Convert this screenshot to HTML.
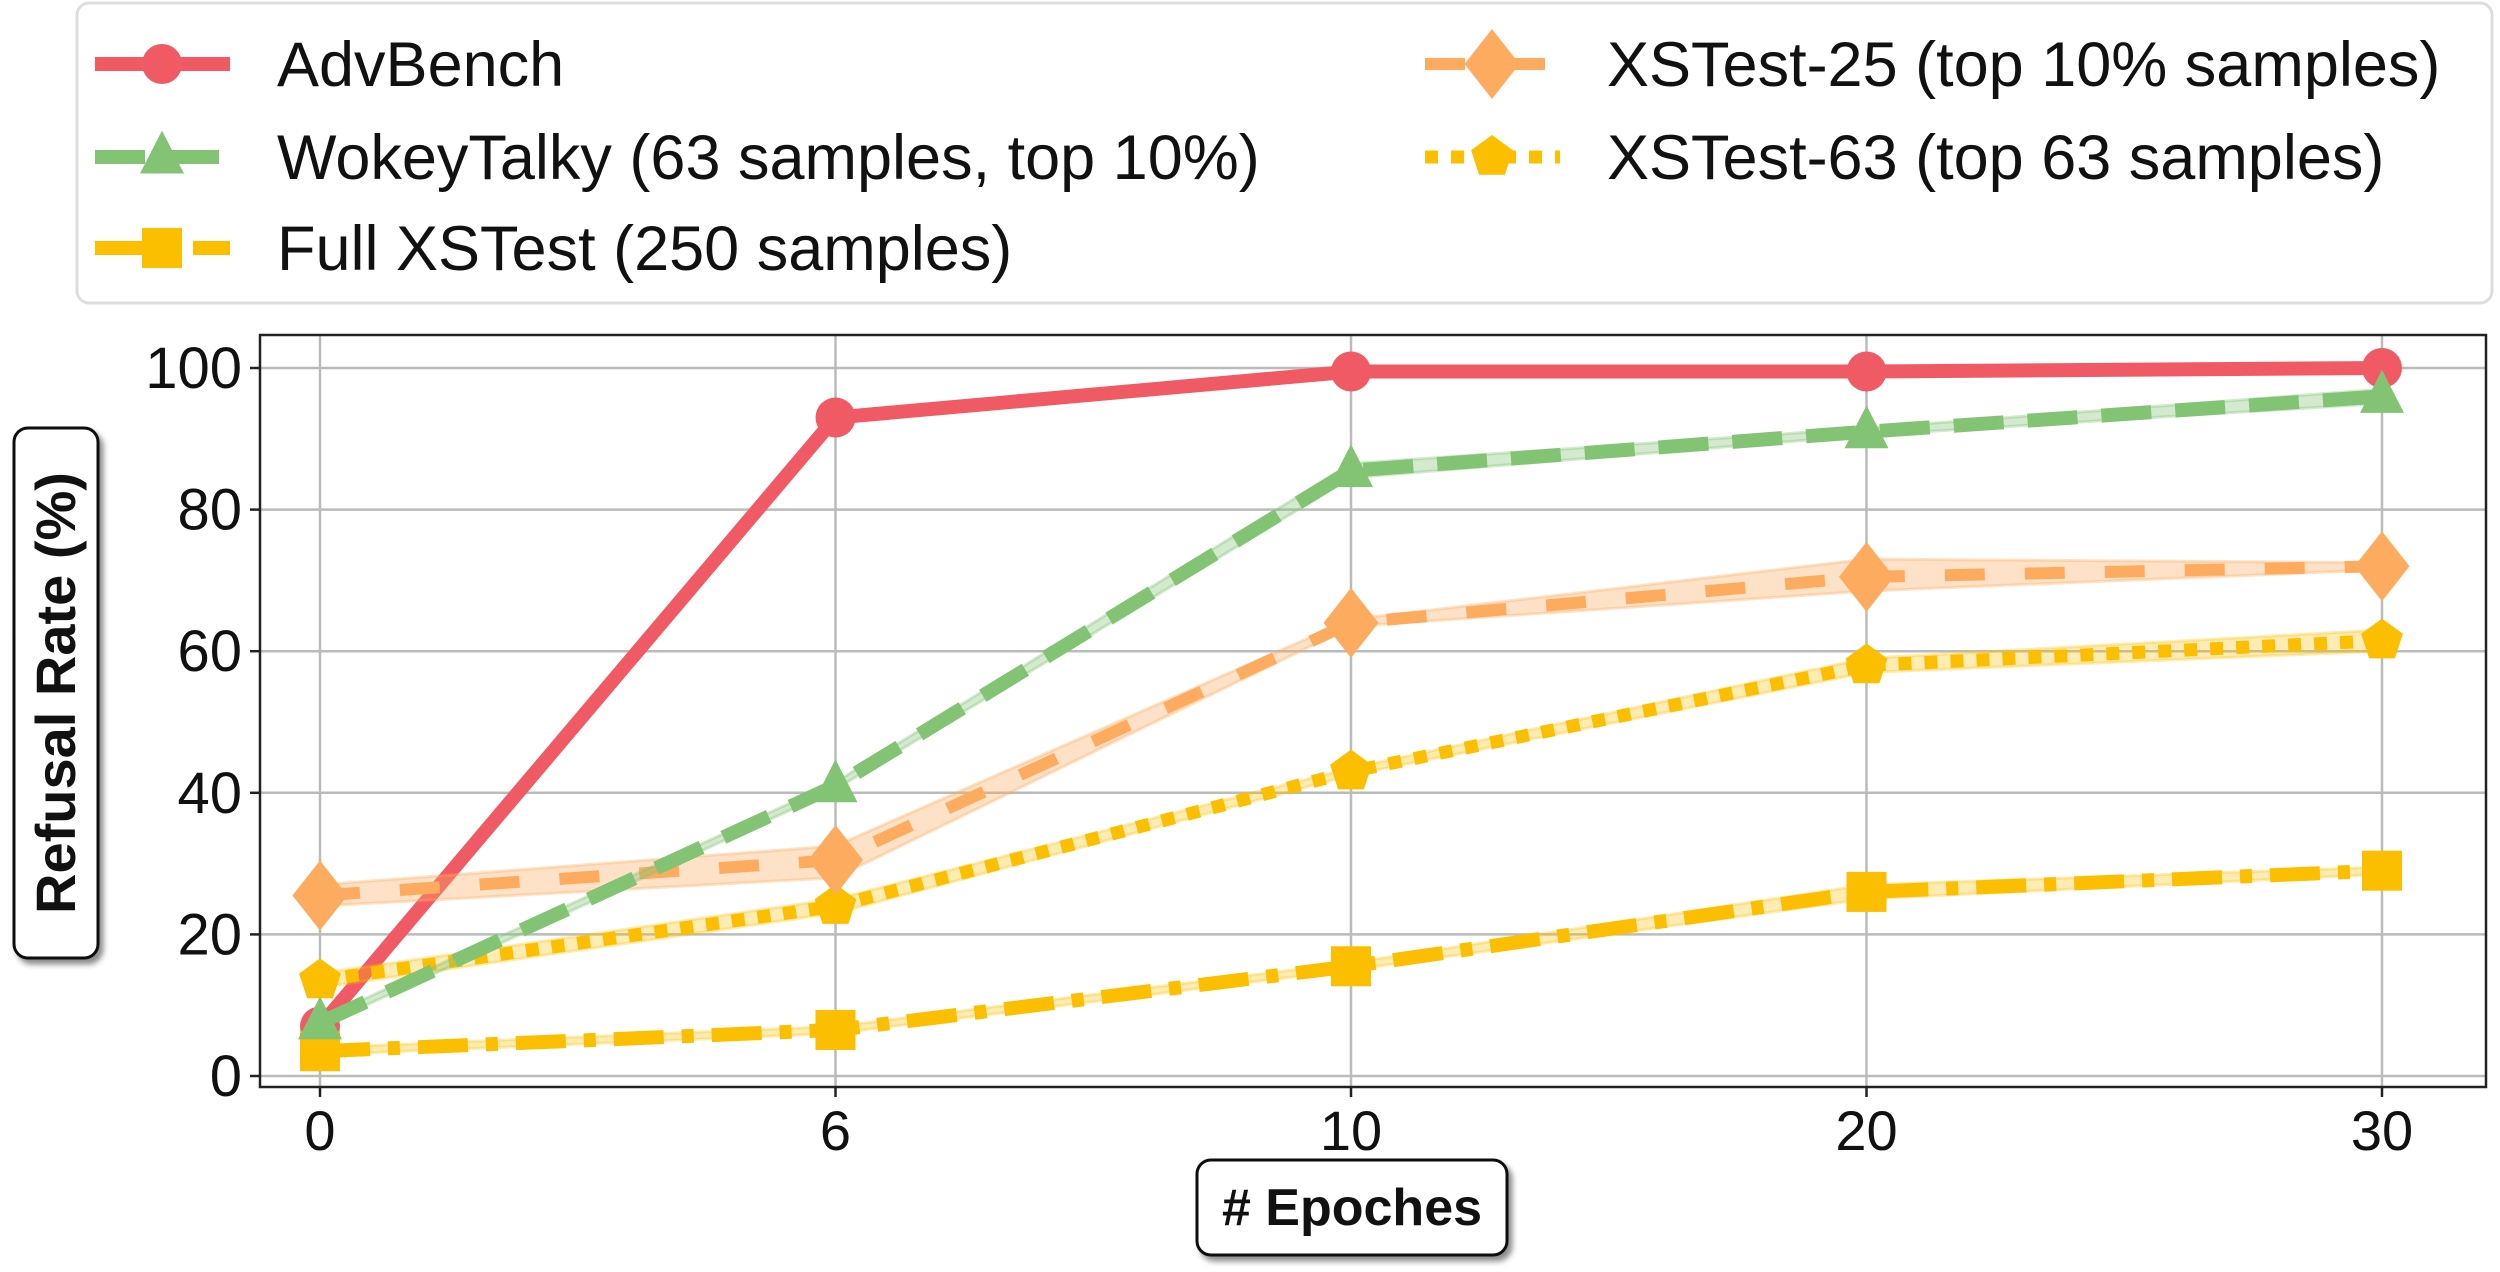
<!DOCTYPE html>
<html><head><meta charset="utf-8"><style>
html,body{margin:0;padding:0;background:#fff;}
svg{display:block;font-family:"Liberation Sans",sans-serif;}
</style></head><body>
<svg id="chart" width="2500" height="1272" viewBox="0 0 2500 1272">
<defs><filter id="sh" x="-20%" y="-20%" width="140%" height="140%"><feDropShadow dx="4" dy="5" stdDeviation="3" flood-color="#000" flood-opacity="0.45"/></filter></defs>
<g id="grid"></g>
<g id="series"></g>
<rect x="260" y="335" width="2226" height="752" fill="none" stroke="#222" stroke-width="2.5"/>
<g id="ticks"></g>
<g>
<rect x="14" y="428" width="84" height="530" rx="14" fill="#fff" stroke="#111" stroke-width="3" filter="url(#sh)"/>
<text transform="translate(75,693) rotate(-90)" text-anchor="middle" font-size="56" font-weight="bold" fill="#111">Refusal Rate (%)</text>
</g>
<g>
<rect x="1197" y="1160" width="310" height="95" rx="14" fill="#fff" stroke="#111" stroke-width="3" filter="url(#sh)"/>
<text x="1352" y="1225" text-anchor="middle" font-size="52" font-weight="bold" fill="#111"># Epoches</text>
</g>
<g id="legend">
<rect x="77" y="3" width="2415" height="300" rx="12" fill="#fff" stroke="#ddd" stroke-width="3"/>
</g>
</svg>
<script>
const categories = ["0","6","10","20","30"];
const yTicks = [0,20,40,60,80,100];
const advBench = [7,93,99.5,99.5,100];
const wokey = [7.5,41,85.5,91,96];
const wokeyLo = [7,40.5,84.5,90.5,95];
const wokeyHi = [8,41.5,86.5,91.5,97];
const xs25 = [25.5,30.5,64,70.5,72];
const xs25Lo = [24,28,63.5,68.5,71.5];
const xs25Hi = [27,32.5,64.5,73,72.5];
const xs63 = [13.5,24,43,58,61.5];
const xs63Lo = [12.5,23,42.5,57,60];
const xs63Hi = [14.5,25,43.5,59,63];
const full = [3.5,6.5,15.5,26,29];
const fullLo = [3,6,15,25,28.5];
const fullHi = [4,7,16,27,29.5];

const NS="http://www.w3.org/2000/svg";
const X0=320, XSTEP=515.5, Y0=1076, YPX=7.08;
function xs(i){return X0+i*XSTEP;}
function ys(v){return Y0-v*YPX;}
function mk(tag,attrs,parent){const e=document.createElementNS(NS,tag);for(const k in attrs)e.setAttribute(k,attrs[k]);parent.appendChild(e);return e;}
const grid=document.getElementById('grid'), ticks=document.getElementById('ticks'), ser=document.getElementById('series'), leg=document.getElementById('legend');

yTicks.forEach(v=>{
  const l=mk('line',{x1:260,x2:2486,y1:ys(v),y2:ys(v),stroke:'#bbb','stroke-width':2.5},grid);
  
  
  const t=mk('line',{x1:250,x2:260,y1:ys(v),y2:ys(v),stroke:'#222','stroke-width':2.5},ticks);
  
  
  const tx=mk('text',{x:242,y:ys(v)+20,'text-anchor':'end','font-size':58,fill:'#111'},ticks);
  tx.textContent=v;
  
  
});
categories.forEach((c,i)=>{
  const l=mk('line',{x1:xs(i),x2:xs(i),y1:335,y2:1087,stroke:'#bbb','stroke-width':2.5},grid);
  
  
  const t=mk('line',{x1:xs(i),x2:xs(i),y1:1087,y2:1097,stroke:'#222','stroke-width':2.5},ticks);
  
  
  const tx=mk('text',{x:xs(i),y:1150,'text-anchor':'middle','font-size':56,fill:'#111'},ticks);
  tx.textContent=c;
  
  
});

function marker(shape,cx,cy,color,s,parent){
  let e;
  if(shape==='circle') e=mk('circle',{cx:cx,cy:cy,r:s,fill:color},parent);
  else if(shape==='triangle') e=mk('polygon',{points:`${cx},${cy-s*1.2} ${cx-s},${cy+s*0.75} ${cx+s},${cy+s*0.75}`,fill:color},parent);
  else if(shape==='diamond') e=mk('polygon',{points:`${cx},${cy-s*1.4} ${cx+s*1.1},${cy} ${cx},${cy+s*1.4} ${cx-s*1.1},${cy}`,fill:color},parent);
  else if(shape==='square') e=mk('rect',{x:cx-s,y:cy-s,width:2*s,height:2*s,fill:color},parent);
  else { let p=[];for(let k=0;k<5;k++){const a=-Math.PI/2+k*2*Math.PI/5;p.push((cx+s*Math.cos(a)).toFixed(1)+','+(cy+s*Math.sin(a)).toFixed(1));}
    e=mk('polygon',{points:p.join(' '),fill:color},parent);}
  return e;
}
function pts(arr){return arr.map((v,i)=>xs(i)+','+ys(v)).join(' ');}

const seriesDefs=[
 {name:'advbench',vals:advBench,lo:null,hi:null,color:'#f05a64',band:null,dash:null,w:14,shape:'circle',ms:20},
 {name:'full-xstest',vals:full,lo:fullLo,hi:fullHi,color:'#fbbf00',band:'rgba(251,191,0,0.3)',dash:'50 18 12 18',w:14,shape:'square',ms:20},
 {name:'xstest-63',vals:xs63,lo:xs63Lo,hi:xs63Hi,color:'#fbbf00',band:'rgba(251,191,0,0.3)',dash:'13 13',w:13,shape:'pentagon',ms:22},
 {name:'xstest-25',vals:xs25,lo:xs25Lo,hi:xs25Hi,color:'#fdac5f',band:'rgba(253,172,95,0.35)',dash:'40 40',w:12,shape:'diamond',ms:25},
 {name:'wokeytalky',vals:wokey,lo:wokeyLo,hi:wokeyHi,color:'#82c474',band:'rgba(130,196,116,0.35)',dash:'50 24',w:14,shape:'triangle',ms:22}
];
seriesDefs.forEach(s=>{
  const g=mk('g',{},ser);
  
  
  if(s.lo){
    const top=s.hi.map((v,i)=>xs(i)+','+ys(v));
    const bot=s.lo.map((v,i)=>xs(i)+','+ys(v)).reverse();
    const b=mk('polygon',{points:top.concat(bot).join(' '),fill:s.band,stroke:s.band,'stroke-width':3},g);
    
    
  }
  const attrs={points:pts(s.vals),fill:'none',stroke:s.color,'stroke-width':s.w,'stroke-linejoin':'round'};
  if(s.dash)attrs['stroke-dasharray']=s.dash;
  const l=mk('polyline',attrs,g);
  
  
  s.vals.forEach((v,i)=>{
    const m=marker(s.shape,xs(i),ys(v),s.color,s.ms,g);
    
    
  });
});

const legendItems=[
 {label:'AdvBench',s:seriesDefs[0],x:95,y:64},
 {label:'WokeyTalky (63 samples, top 10%)',s:seriesDefs[4],x:95,y:157},
 {label:'Full XSTest (250 samples)',s:seriesDefs[1],x:95,y:248},
 {label:'XSTest-25 (top 10% samples)',s:seriesDefs[3],x:1425,y:64},
 {label:'XSTest-63 (top 63 samples)',s:seriesDefs[2],x:1425,y:157}
];
legendItems.forEach(it=>{
  const g=mk('g',{},leg);
  
  
  const a={x1:it.x,x2:it.x+135,y1:it.y,y2:it.y,stroke:it.s.color,'stroke-width':it.s.w};
  if(it.s.dash)a['stroke-dasharray']=it.s.dash;
  mk('line',a,g);
  marker(it.s.shape,it.x+67,it.y,it.s.color,it.s.ms,g);
  const t=mk('text',{x:it.x+182,y:it.y+22,'font-size':63,fill:'#111'},g);
  t.textContent=it.label;
});
</script>
</body></html>
